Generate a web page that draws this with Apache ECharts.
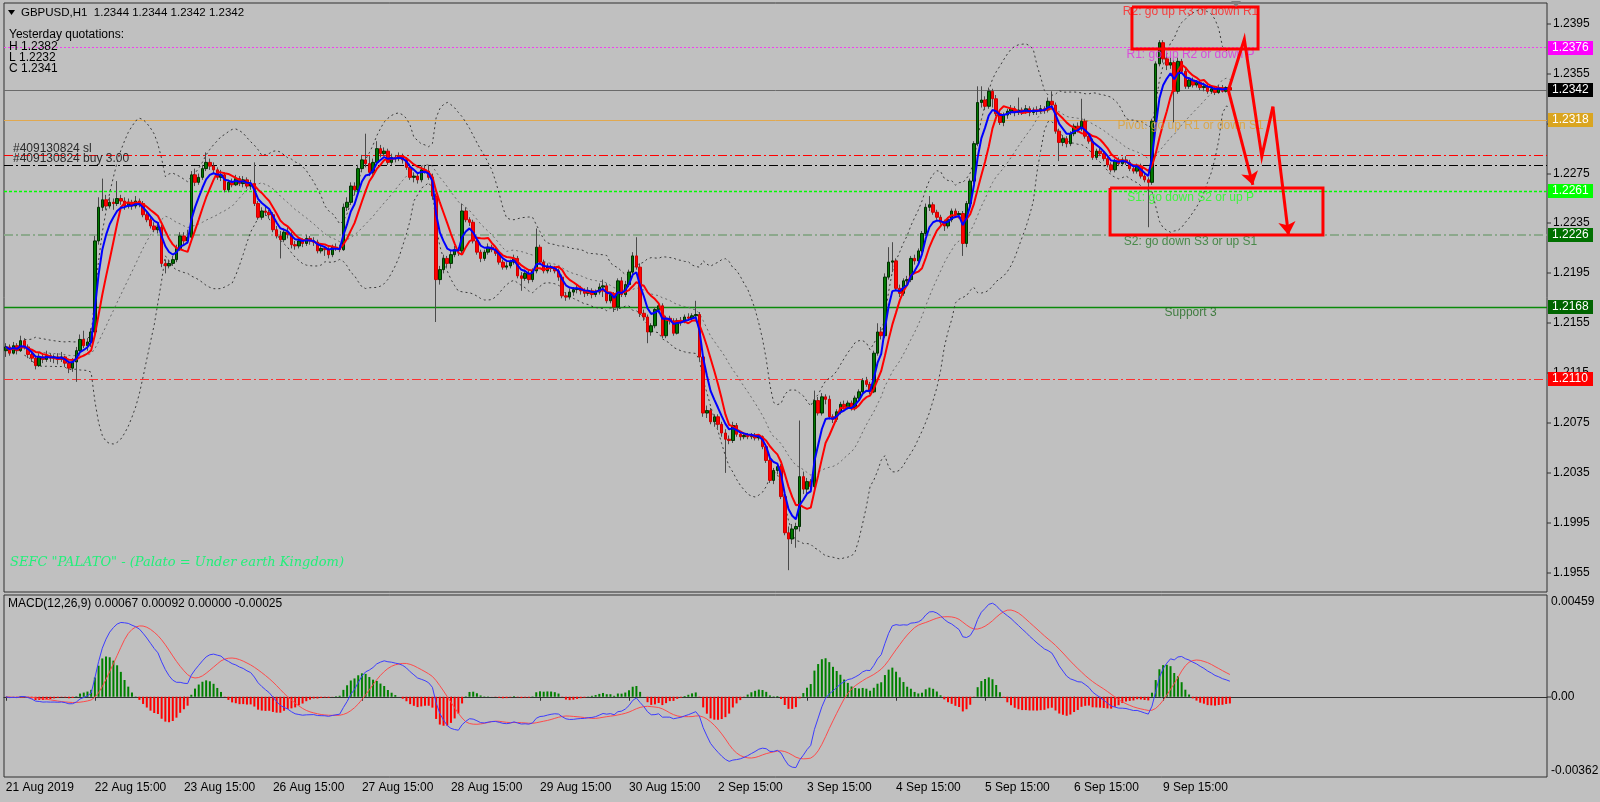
<!DOCTYPE html>
<html><head><meta charset="utf-8">
<script src="https://cdn.jsdelivr.net/npm/echarts@6.0.0/dist/echarts.min.js"></script>
<style>html,body{margin:0;padding:0;background:#c0c0c0;}#c{width:1600px;height:802px;}</style>
</head><body><div id="c"></div>
<script>
// prices are stored in pips above BASE (1.2000); e.g. 136 -> 1.2136, -13 -> 1.1987
const BASE = 1.2;
const opens = [
133,136,131,137,133,141,136,130,127,121, 128,126,129,127,128,126,128,123,119,124,
133,142,137,140,148,221,248,254,249,252, 251,255,253,249,252,249,253,251,242,238,
233,230,232,203,201,203,206,215,225,221, 224,274,268,272,279,284,281,278,272,274,
262,268,266,271,267,270,265,267,251,240, 245,244,242,230,225,222,228,226,218,217,
221,219,223,221,220,213,215,214,210,216, 215,214,248,252,265,262,279,286,283,276,
284,295,291,293,284,288,287,289,286,280, 272,273,270,278,277,272,257,190,198,207,
203,210,214,213,245,238,236,221,212,207, 212,216,214,211,204,200,201,204,207,193,
191,195,190,197,216,204,197,200,199,197, 192,177,176,180,182,183,181,179,181,178,
180,184,185,173,178,168,189,178,186,196, 209,200,163,160,148,153,166,169,145,159,
157,147,157,156,160,159,161,162,128,83, 85,76,80,74,67,62,61,73,66,64,
65,64,65,63,64,56,45,29,37,40, 16,-13,-18,-10,-8,32,22,28,24,93,
83,96,94,80,78,84,90,88,91,87, 95,100,109,106,100,131,148,145,192,204,
205,183,179,189,190,207,205,213,227,248, 250,244,240,236,233,238,245,242,243,219,
251,269,299,332,334,329,341,335,323,316, 322,325,327,324,326,325,327,324,326,325,
327,326,333,330,309,300,303,299,307,313, 311,317,305,301,288,293,291,287,282,278,
285,283,286,284,279,277,281,273,270,268, 317,363,380,367,362,364,341,365,357,345,
350,346,348,344,345,341,343,340,344,341, 344];
const highs = [
139,138,140,139,145,143,138,133,129,131, 131,133,131,130,131,132,129,125,127,136,
146,149,143,151,225,256,271,258,256,255, 269,258,256,255,254,257,255,253,245,240,
236,235,234,206,206,209,218,228,228,230, 277,279,275,282,292,287,284,280,278,276,
270,271,274,273,273,272,270,284,253,248, 249,246,244,233,229,231,232,228,221,224,
223,226,225,224,222,218,217,216,218,219, 218,251,256,268,268,282,290,307,289,287,
301,298,296,295,291,290,292,291,288,283, 276,275,281,282,282,275,259,201,210,209,
213,217,216,251,248,240,238,223,214,214, 219,218,216,213,206,204,206,210,209,196,
198,197,199,231,218,206,203,202,201,199, 194,180,183,184,186,185,183,184,183,182,
187,190,187,180,180,191,192,189,198,212, 224,203,166,162,155,168,171,171,161,161,
159,159,160,162,163,163,173,164,130,89, 87,82,82,76,70,65,76,75,68,67,
67,67,67,66,65,58,47,39,43,42, 18,-8,-6,-5,77,36,31,30,101,96,
99,98,97,82,86,92,93,93,93,97, 102,111,112,108,133,155,152,195,216,220,
207,186,191,193,209,210,215,229,251,257, 252,246,242,238,240,247,247,245,245,253,
271,301,345,345,337,344,343,338,326,324, 327,330,329,336,328,330,329,328,329,330,
329,336,341,332,311,306,305,309,315,316, 335,319,307,303,295,296,293,289,284,287,
288,288,289,286,281,283,283,276,272,319, 365,382,382,371,368,366,368,367,360,352,
352,350,350,348,347,345,345,346,346,345, 344];
const lows = [
128,129,130,130,132,134,127,124,118,120, 123,124,124,123,122,124,120,115,116,108,
131,135,133,136,146,218,245,246,247,246, 249,250,246,247,246,247,248,240,236,231,
228,227,200,195,199,201,204,213,218,219, 222,265,266,270,277,278,275,270,269,260,
260,264,265,265,264,263,262,249,238,238, 241,239,228,223,207,220,223,215,214,215,
216,217,218,217,211,211,209,207,208,213, 212,213,245,250,258,260,276,280,273,274,
282,288,289,282,282,284,285,283,278,270, 268,267,268,275,270,254,156,186,195,200,
199,208,209,211,236,233,219,210,204,205, 210,212,209,202,198,198,199,202,191,181,
189,187,188,195,202,195,195,196,195,189, 175,173,174,177,179,178,176,177,175,176,
178,176,171,171,164,165,176,176,184,194, 198,160,157,139,145,151,163,143,143,154,
145,146,153,155,157,157,159,125,80,79, 74,72,71,64,35,58,59,64,61,62,
62,62,61,61,54,43,27,26,34,14, -15,-43,-22,-25,-12,18,18,20,21,81,
81,90,78,75,76,82,86,86,85,85, 93,98,104,98,99,129,142,143,190,196,
181,176,177,185,188,202,203,211,225,245, 242,238,234,229,231,236,240,239,209,216,
249,267,297,328,326,327,328,321,314,313, 319,322,321,322,322,323,321,322,322,323,
323,324,328,307,285,297,296,297,305,308, 309,303,299,286,286,289,285,280,276,276,
281,281,282,277,275,275,271,268,232,266, 315,361,364,358,359,316,339,355,343,343,
344,344,342,341,339,339,338,339,340,340, 342];
const closes = [
136,131,137,133,141,136,130,127,121,128, 126,129,127,128,126,128,123,119,124,133,
142,137,140,148,221,248,254,249,252,251, 255,253,249,252,249,253,251,242,238,233,
230,232,203,201,203,206,215,225,221,224, 274,268,272,279,284,281,278,272,274,262,
268,266,271,267,270,265,267,251,240,245, 244,242,230,225,222,228,226,218,217,221,
219,223,221,220,213,215,214,210,216,215, 214,248,252,265,262,279,286,283,276,284,
295,291,293,284,288,287,289,286,280,272, 273,270,278,277,272,257,190,198,207,203,
210,214,213,245,238,236,221,212,207,212, 216,214,211,204,200,201,204,207,193,191,
195,190,197,216,204,197,200,199,197,192, 177,176,180,182,183,181,179,181,178,180,
184,185,173,178,168,189,178,186,196,209, 200,163,160,148,153,166,169,145,159,157,
147,157,156,160,159,161,162,128,83,85, 76,80,74,67,62,61,73,66,64,65,
64,65,63,64,56,45,29,37,40,16, -13,-18,-10,-8,32,22,28,24,93,83,
96,94,80,78,84,90,88,91,87,95, 100,109,106,100,131,148,145,192,204,205,
183,179,189,190,207,205,213,227,248,250, 244,240,236,233,238,245,242,243,219,251,
269,299,332,334,329,341,335,323,316,322, 325,327,324,326,325,327,324,326,325,327,
326,333,330,309,300,303,299,307,313,311, 317,305,301,288,293,291,287,282,278,285,
283,286,284,279,277,281,273,270,268,317, 363,380,367,362,364,341,365,357,345,350,
346,348,344,345,341,343,340,344,341,344, 342];

const timeTickLabels = ['21 Aug 2019','22 Aug 15:00','23 Aug 15:00','26 Aug 15:00','27 Aug 15:00','28 Aug 15:00',
  '29 Aug 15:00','30 Aug 15:00','2 Sep 15:00','3 Sep 15:00','4 Sep 15:00','5 Sep 15:00','6 Sep 15:00','9 Sep 15:00'];
const BARS_PER_LABEL = 24;
const priceTickLabels = [1.2395,1.2355,1.2315,1.2275,1.2235,1.2195,1.2155,1.2115,1.2075,1.2035,1.1995,1.1955];
const macdTickLabels = [0.00459, 0, -0.00362];
// horizontal levels: R1, bid, pivot, sl, buy, S1, S2, S3, low level
const levelValues = [1.2376, 1.2342, 1.2318, 1.2290, 1.2282, 1.2261, 1.2226, 1.2168, 1.2110];
const levelNames = ['R1','Bid','Pivot','SL','Buy','S1','S2','S3','L'];
const orderTexts = ['#409130824 sl', '#409130824 buy 3.00'];
const pivotTexts = ['R2: go up R3 or down R1','R1: go up R2 or down P','Pivot: go up R1 or down S1','S1: go down S2 or up P','S2: go down S3 or up S1','Support 3'];
const pivotTextPrices = [1.24046, 1.23701, 1.23132, 1.22555, 1.22202, 1.21632];
const pivotTextBar = 319.4;
// drawn objects (bar index, price)
const boxTop = [[303.6,1.24086],[337.6,1.23750]];
const boxBottom = [[297.7,1.22635],[355.1,1.22258]];
const zigzag = [[329.6,1.23418],[333.9,1.23827],[338.6,1.22886],[341.6,1.23287],[345.8,1.22258]];
const arrowDown = [[329.6,1.23418],[336.2,1.22659]];

const N_SLOTS = 416;
const price = p => +(BASE + p / 10000).toFixed(4);
const O = opens.map(price), H = highs.map(price), Lw = lows.map(price), C = closes.map(price);
const wickData = C.map((c,i)=>[O[i], c, Lw[i], H[i]]);
const bodyData = C.map((c,i)=>[O[i], c, Math.min(O[i],c), Math.max(O[i],c)]);
const cats = Array.from({length:N_SLOTS}, (_,i)=>String(i));

function emaCalc(arr,n){const k=2/(n+1);const out=[];let prev;arr.forEach((v,i)=>{prev=i===0?v:prev+k*(v-prev);out.push(prev);});return out;}
function smaCalc(arr,n){return arr.map((v,i)=>{const w=arr.slice(Math.max(0,i-n+1),i+1);return w.reduce((a,b)=>a+b,0)/w.length;});}
const fastMA = emaCalc(C,5);
const slowMA = smaCalc(C,8);
const bbU=[],bbM=[],bbL=[];
C.forEach((v,i)=>{const w=C.slice(Math.max(0,i-19),i+1);const m=w.reduce((a,b)=>a+b,0)/w.length;
  const sd=Math.sqrt(w.reduce((a,b)=>a+(b-m)*(b-m),0)/w.length);
  if(i<5){bbU.push(null);bbM.push(null);bbL.push(null);}else{bbU.push(m+2*sd);bbM.push(m);bbL.push(m-2*sd);}});
const e12=emaCalc(C,12), e26=emaCalc(C,26);
const macd=e12.map((v,i)=>v-e26[i]);
const signal=smaCalc(macd,9);
const hist=macd.map((v,i)=>v-signal[i]);

const showTick = (i)=> i % BARS_PER_LABEL === 0 && i / BARS_PER_LABEL < timeTickLabels.length;
const FONT = 'Liberation Sans, Arial, sans-serif';

const levelStyle = {
  R1:{color:'#f040f0', type:[2,2], width:1, opacity:1},
  Bid:{color:'#6a6a6a', type:'solid', width:1, opacity:1},
  Pivot:{color:'#e0a850', type:'solid', width:1, opacity:1},
  SL:{color:'#ff0000', type:[9,3,2,3], width:1, opacity:1},
  Buy:{color:'#000000', type:[9,3,2,3], width:1, opacity:1},
  S1:{color:'#00ff00', type:[3,2], width:1.4, opacity:1},
  S2:{color:'#8ca88c', type:[9,3,2,3], width:2, opacity:1},
  S3:{color:'#0a8a0a', type:'solid', width:1.4, opacity:1},
  L:{color:'#ff3030', type:[9,3,2,3], width:1, opacity:1}
};
const levelBox = {R1:'#ff00ff', Bid:'#000000', Pivot:'#daa520', S1:'#00ff00', S2:'#007000', S3:'#006400', L:'#ff0000'};
const pivotColors = ['#ff2020','#e030e0','#e0a030','#20ff20','#2a7a2a','#1f6a1f'];

const chart = echarts.init(document.getElementById('c'), null, {width:1600, height:802});
const option = {
  animation:false,
  backgroundColor:'#c0c0c0',
  grid:[
    {left:4, right:53, top:3, height:589, show:true, borderColor:'#303030', borderWidth:1, backgroundColor:'transparent'},
    {left:4, right:53, top:595, height:182, show:true, borderColor:'#303030', borderWidth:1, backgroundColor:'transparent'}
  ],
  xAxis:[
    {type:'category', gridIndex:0, data:cats, boundaryGap:true, show:false},
    {type:'category', gridIndex:1, data:cats, boundaryGap:true,
      axisLine:{show:true, lineStyle:{color:'#303030'}},
      axisTick:{show:true, alignWithLabel:true, interval:showTick, length:4, lineStyle:{color:'#303030'}},
      axisLabel:{interval:showTick, formatter:(v,i)=>timeTickLabels[i/BARS_PER_LABEL], align:'left', color:'#000', fontSize:12, fontFamily:FONT, margin:5},
      splitLine:{show:false}},
    {type:'value', gridIndex:0, min:-0.5, max:N_SLOTS-0.5, show:false}
  ],
  yAxis:[
    {type:'value', gridIndex:0, min:1.19395, max:1.24118, show:false, splitLine:{show:false}},
    {type:'value', gridIndex:1, min:-0.00362, max:0.00459, show:false, splitLine:{show:false}}
  ],
  series:[
    {type:'lines', coordinateSystem:'cartesian2d', xAxisIndex:2, yAxisIndex:0, z:1, silent:true,
      lineStyle:{opacity:1},
      data: levelValues.map((v,i)=>({coords:[[-0.5,v],[N_SLOTS-0.5,v]], lineStyle:levelStyle[levelNames[i]]}))},
    {type:'line', xAxisIndex:0, yAxisIndex:0, data:bbU, showSymbol:false, z:1, lineStyle:{color:'#3a3a3a', width:1, type:[2,3]}},
    {type:'line', xAxisIndex:0, yAxisIndex:0, data:bbM, showSymbol:false, z:1, lineStyle:{color:'#6a6a6a', width:1, type:[2,3]}},
    {type:'line', xAxisIndex:0, yAxisIndex:0, data:bbL, showSymbol:false, z:1, lineStyle:{color:'#3a3a3a', width:1, type:[2,3]}},
    {type:'candlestick', xAxisIndex:0, yAxisIndex:0, data:wickData, barWidth:1, z:2,
      itemStyle:{color:'#4a4a4a', color0:'#4a4a4a', borderColor:'#4a4a4a', borderColor0:'#4a4a4a', borderWidth:1}},
    {type:'candlestick', xAxisIndex:0, yAxisIndex:0, data:bodyData, barWidth:3, z:3,
      itemStyle:{color:'#007800', color0:'#ff0000', borderColor:'#003000', borderColor0:'#d00000', borderWidth:1}},
    {type:'line', xAxisIndex:0, yAxisIndex:0, data:slowMA, showSymbol:false, z:4, lineStyle:{color:'#ff0000', width:2}},
    {type:'line', xAxisIndex:0, yAxisIndex:0, data:fastMA, showSymbol:false, z:5, lineStyle:{color:'#0000ff', width:2}},
    {type:'lines', coordinateSystem:'cartesian2d', xAxisIndex:2, yAxisIndex:0, polyline:true, z:10, silent:true,
      lineStyle:{color:'#ff0000', width:3, opacity:1},
      data:[
        {coords:[[boxTop[0][0],boxTop[0][1]],[boxTop[1][0],boxTop[0][1]],[boxTop[1][0],boxTop[1][1]],[boxTop[0][0],boxTop[1][1]],[boxTop[0][0],boxTop[0][1]]]},
        {coords:[[boxBottom[0][0],boxBottom[0][1]],[boxBottom[1][0],boxBottom[0][1]],[boxBottom[1][0],boxBottom[1][1]],[boxBottom[0][0],boxBottom[1][1]],[boxBottom[0][0],boxBottom[0][1]]]},
        {coords: zigzag.slice(0, zigzag.length-1)}
      ]},
    {type:'lines', coordinateSystem:'cartesian2d', xAxisIndex:2, yAxisIndex:0, z:10, silent:true,
      symbol:['none','arrow'], symbolSize:13,
      lineStyle:{color:'#ff0000', width:3, opacity:1},
      data:[{coords:[zigzag[zigzag.length-2], zigzag[zigzag.length-1]]},{coords:arrowDown}]},
    {type:'scatter', xAxisIndex:2, yAxisIndex:0, symbolSize:0, z:9, silent:true,
      data: pivotTexts.map((t,i)=>({name:t, value:[pivotTextBar, pivotTextPrices[i]],
        label:{show:true, position:'inside', formatter:t, color:pivotColors[i], fontSize:12, fontFamily:FONT}}))},
    {type:'bar', xAxisIndex:1, yAxisIndex:1, data:hist.map(v=>({value:v, itemStyle:{color: v>=0?'#008000':'#ff0000'}})), barWidth:2, z:2},
    {type:'line', xAxisIndex:1, yAxisIndex:1, data:signal, showSymbol:false, z:3, lineStyle:{color:'#ff4a4a', width:1}},
    {type:'line', xAxisIndex:1, yAxisIndex:1, data:macd, showSymbol:false, z:4, lineStyle:{color:'#3c3cff', width:1}}
  ]
};
chart.setOption(option);

const g = [];
const py = v => chart.convertToPixel({yAxisIndex:0}, v);
const my = v => chart.convertToPixel({yAxisIndex:1}, v);
const AX = 1547;
priceTickLabels.forEach(v=>{
  const y = Math.round(py(v));
  g.push({type:'line', z:50, shape:{x1:AX, y1:y, x2:AX+4, y2:y}, style:{stroke:'#303030', lineWidth:1}});
  g.push({type:'text', z:50, x:AX+6, y:y, style:{text:v.toFixed(4), fill:'#000', font:'12px '+FONT, verticalAlign:'middle'}});
});
levelValues.forEach((v,i)=>{
  const n = levelNames[i];
  if(!levelBox[n]) return;
  const y = Math.round(py(v));
  g.push({type:'rect', z:60, shape:{x:AX+1, y:y-7, width:45, height:14}, style:{fill:levelBox[n]}});
  g.push({type:'text', z:61, x:AX+5, y:y, style:{text:v.toFixed(4), fill:'#fff', font:'12px '+FONT, verticalAlign:'middle'}});
});
[levelValues[3], levelValues[4]].forEach((v,i)=>{
  const y = py(v);
  g.push({type:'text', z:40, x:13, y:y-6, style:{text:orderTexts[i], fill:'#2a2a2a', font:'12px '+FONT, verticalAlign:'middle'}});
});
macdTickLabels.forEach((v,i)=>{
  let y = my(v);
  if(i===0) y += 7; else if(i===2) y -= 6;
  if(i===1) g.push({type:'line', z:50, shape:{x1:AX, y1:Math.round(y), x2:AX+4, y2:Math.round(y)}, style:{stroke:'#303030', lineWidth:1}});
  g.push({type:'text', z:50, x:AX+4, y:y, style:{text: v===0?'0.00':v.toFixed(5), fill:'#000', font:'12px '+FONT, verticalAlign:'middle'}});
});
// header and info texts
g.push({type:'polygon', z:50, shape:{points:[[8,10],[15,10],[11.5,15]]}, style:{fill:'#000'}});
g.push({type:'text', z:50, x:21, y:13, style:{text:'GBPUSD,H1  1.2344 1.2344 1.2342 1.2342', fill:'#000', font:'11.5px '+FONT, verticalAlign:'middle'}});
['Yesterday quotations:','H 1.2382','L 1.2232','C 1.2341'].forEach((t,i)=>{
  g.push({type:'text', z:50, x:9, y:[35,47,58,69][i], style:{text:t, fill:'#000', font:'12px '+FONT, verticalAlign:'middle'}});
});
g.push({type:'text', z:50, x:10, y:563, style:{text:'SEFC "PALATO" - (Palato = Under earth Kingdom)', fill:'#22f07a', font:'italic 13px "DejaVu Serif", serif', verticalAlign:'middle'}});
g.push({type:'text', z:50, x:8, y:604, style:{text:'MACD(12,26,9) 0.00067 0.00092 0.00000 -0.00025', fill:'#000', font:'12px '+FONT, verticalAlign:'middle'}});
g.push({type:'polygon', z:50, shape:{points:[[1231,1],[1241,1],[1236,7]]}, style:{fill:'#808080'}});
chart.setOption({graphic: g});
</script></body></html>
